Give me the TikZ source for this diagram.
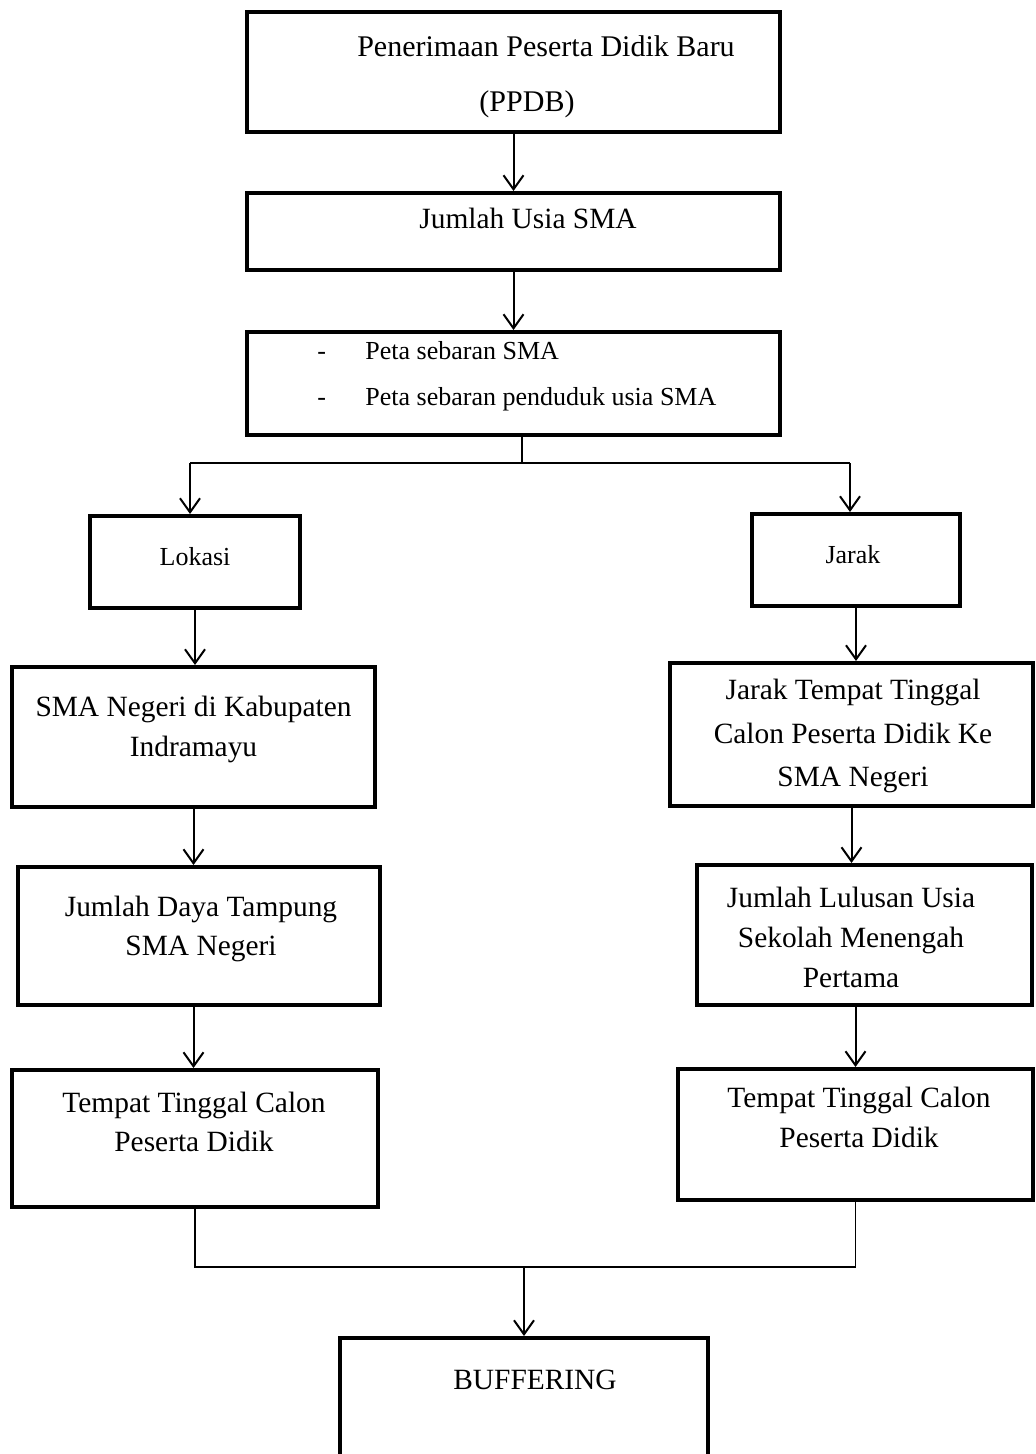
\documentclass[tikz,border=0pt]{standalone}
\usepackage{fontspec}
\setmainfont{Liberation Serif}
\usetikzlibrary{arrows.meta}
\tikzset{
  box/.style={draw, line width=2pt, inner sep=0pt},
  txt/.style={inner sep=0pt, align=center, anchor=north},
  flow/.style={-{Straight Barb[length=7pt,width=10pt,line width=1pt]}, line width=1pt},
  link/.style={line width=0.8pt}
}
\newcommand{\bigtxt}[1]{\fontsize{14.7}{#1}\selectfont}
\newcommand{\smalltxt}[1]{\fontsize{13}{#1}\selectfont}
\begin{document}
\begin{tikzpicture}[x=0.5pt,y=-0.5pt]
  \clip (0,0) rectangle (1035,1454);
  % boxes
  \node[box, minimum width=266.5pt, minimum height=60pt] (ppdb) at (513.5,72) {};
  \node[box, minimum width=266.5pt, minimum height=38.5pt] (usia) at (513.5,231.5) {};
  \node[box, minimum width=266.5pt, minimum height=51.5pt] (peta) at (513.5,383.5) {};
  \node[box, minimum width=105pt, minimum height=46pt] (lok) at (195,562) {};
  \node[box, minimum width=104pt, minimum height=46pt] (jar) at (856,560) {};
  \node[box, minimum width=181.5pt, minimum height=70pt] (neg) at (193.5,737) {};
  \node[box, minimum width=181.5pt, minimum height=71.5pt] (jtt) at (851.5,734.5) {};
  \node[box, minimum width=181pt, minimum height=69pt] (daya) at (199,936) {};
  \node[box, minimum width=167.5pt, minimum height=70pt] (lul) at (864.5,935) {};
  \node[box, minimum width=183pt, minimum height=68.5pt] (tlA) at (195,1138.5) {};
  \node[box, minimum width=177.5pt, minimum height=65.5pt] (tlB) at (855.5,1134.5) {};
  \node[box, minimum width=184pt, minimum height=71pt] (buf) at (524,1409) {};
  % texts
  \node[txt, font=\fontsize{15}{27.5}\selectfont] (ppdbT) at (546,35) {Penerimaan Peserta Didik Baru\\(PPDB)\hspace*{19pt}};
  \node[txt, font=\bigtxt{20}] (usiaT) at (528,208) {Jumlah Usia SMA};
  \node[txt, anchor=north west, align=left, font=\smalltxt{23}] (petaT) at (317,341)
    {\makebox[24pt][l]{-}Peta sebaran SMA\\\makebox[24pt][l]{-}Peta sebaran penduduk usia SMA};
  \node[txt, font=\smalltxt{20}] (lokT) at (195,547) {Lokasi};
  \node[txt, font=\smalltxt{20}] (jarT) at (853,545) {Jarak};
  \node[txt, font=\bigtxt{20}] (negT) at (193.5,696) {SMA Negeri di Kabupaten\\Indramayu};
  \node[txt, font=\bigtxt{21.75}] (jttT) at (853,679) {Jarak Tempat Tinggal\\Calon Peserta Didik Ke\\SMA Negeri};
  \node[txt, font=\bigtxt{19.5}] (dayaT) at (201,896) {Jumlah Daya Tampung\\SMA Negeri};
  \node[txt, font=\bigtxt{20}] (lulT) at (851,887) {Jumlah Lulusan Usia\\Sekolah Menengah\\Pertama};
  \node[txt, font=\bigtxt{19.5}] (tlAT) at (194,1092) {Tempat Tinggal Calon\\Peserta Didik};
  \node[txt, font=\bigtxt{20}] (tlBT) at (859,1087) {Tempat Tinggal Calon\\Peserta Didik};
  \node[txt, font=\bigtxt{20}] (bufT) at (535,1370) {BUFFERING};
  % connectors
  \coordinate (fork) at (522,463);
  \coordinate (join) at (524,1267);
  \draw[flow] (ppdb.south) -- (ppdb.south |- usia.north);
  \draw[flow] (usia.south) -- (usia.south |- peta.north);
  \draw[link] (fork |- peta.south) -- (fork);
  \draw[link] (190,463) coordinate (forkL) -- (850,463) coordinate (forkR);
  \draw[flow] (forkL) -- (forkL |- lok.north);
  \draw[flow] (forkR) -- (forkR |- jar.north);
  \draw[flow] (lok.south) -- (lok.south |- neg.north);
  \draw[flow] (neg.south) -- (neg.south |- daya.north);
  \draw[flow] (daya.south -| neg.south) -- (neg.south |- tlA.north);
  \draw[flow] (jar.south) -- (jar.south |- jtt.north);
  \draw[flow] (jtt.south) -- (jtt.south |- lul.north);
  \draw[flow] (lul.south -| tlB.south) -- (tlB.north);
  \draw[link] (tlA.south) -- (tlA.south |- join) -- (tlB.south |- join) -- (tlB.south);
  \draw[flow] (join) -- (join |- buf.north);
\end{tikzpicture}
\end{document}
